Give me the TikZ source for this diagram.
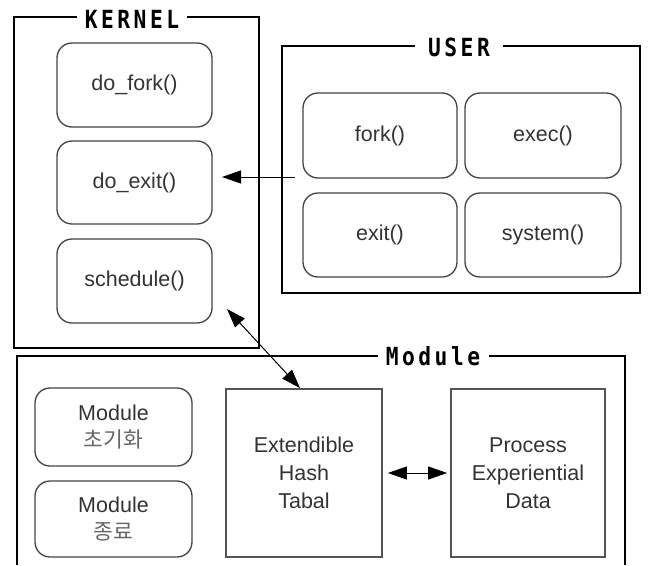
\documentclass[tikz,border=0pt]{standalone}
\usepackage{fontspec}
\setmainfont{Liberation Sans}
\newfontfamily\krfont{Noto Sans CJK KR}
\newfontfamily\titlefont[LetterSpace=14,FakeStretch=0.85]{DejaVu Sans Mono}
\usetikzlibrary{arrows.meta}
\definecolor{txt}{HTML}{333333}
\definecolor{krtxt}{HTML}{666666}
\definecolor{edge}{HTML}{444444}
\definecolor{sqedge}{HTML}{555555}
\tikzset{
  outer/.style={draw=black,line width=1.2pt},
  rbox/.style={draw=edge,line width=1.3pt,rounded corners=15pt,minimum width=155pt,minimum height=84pt,font=\fontsize{21.5}{28}\selectfont,text=txt,align=center,inner sep=0pt},
  sbox/.style={draw=sqedge,line width=1.8pt,minimum width=156pt,minimum height=168pt,font=\fontsize{21.5}{28}\selectfont,text=txt,align=center,inner sep=0pt},
  ttl/.style={fill=white,inner sep=0pt,minimum height=22pt,font=\titlefont\bfseries\fontsize{25}{25}\selectfont},
  arr/.style={line width=1pt,-{Triangle[length=19pt,width=13pt]}},
  darr/.style={line width=1pt,{Triangle[length=19pt,width=13pt]}-{Triangle[length=19pt,width=13pt]}},
}
\begin{document}
\begin{tikzpicture}[x=1pt,y=-1pt]
\useasboundingbox (0,0) rectangle (648,565);
% outer frames
\draw[outer] (14,17) rectangle (259,348);
\draw[outer] (282,46) rectangle (640,293);
\draw[outer] (17,565) -- (17,356) -- (625,356) -- (625,565);
% titles
\node[ttl,minimum width=110pt] (kt) at (132,19) {KERNEL};
\node[ttl,minimum width=88pt] (ut) at (459,47) {USER};
\node[ttl,minimum width=111pt] (mt) at (433,356) {Module};
% kernel
\node[rbox] (dofork) at (134.5,85) {do\_fork()};
\node[rbox,minimum height=83pt] (doexit) at (134.5,182.5) {do\_exit()};
\node[rbox] (sched) at (134.5,281) {schedule()};
% user
\node[rbox,minimum width=154pt,minimum height=85pt] (fork) at (380,135.5) {fork()};
\node[rbox,minimum width=156pt,minimum height=85pt] (exec) at (543,135.5) {exec()};
\node[rbox,minimum width=154pt] (exit) at (380,235) {exit()};
\node[rbox,minimum width=156pt] (system) at (543,235) {system()};
% module
\node[rbox,minimum width=157pt,minimum height=78pt] (minit) at (113.5,427) {Module\\[-1pt]{\krfont\color{krtxt}초기화}};
\node[rbox,minimum width=157pt,minimum height=76pt] (mend) at (113.5,519) {Module\\[-1pt]{\krfont\color{krtxt}종료}};
\node[sbox] (hash) at (304,473) {Extendible\\Hash\\Tabal};
\node[sbox,minimum width=154pt] (proc) at (528,473) {Process\\Experiential\\Data};
% connectors
\coordinate (ustart) at (295,177);
\coordinate (kend) at (222,177);
\draw[arr] (ustart) -- (kend);
\coordinate (sbend) at (227,309);
\draw[darr] (sbend) -- ([xshift=-4pt]hash.north);
\draw[darr] ([xshift=5pt]hash.east) -- ([xshift=-3pt]proc.west);
\end{tikzpicture}
\end{document}
